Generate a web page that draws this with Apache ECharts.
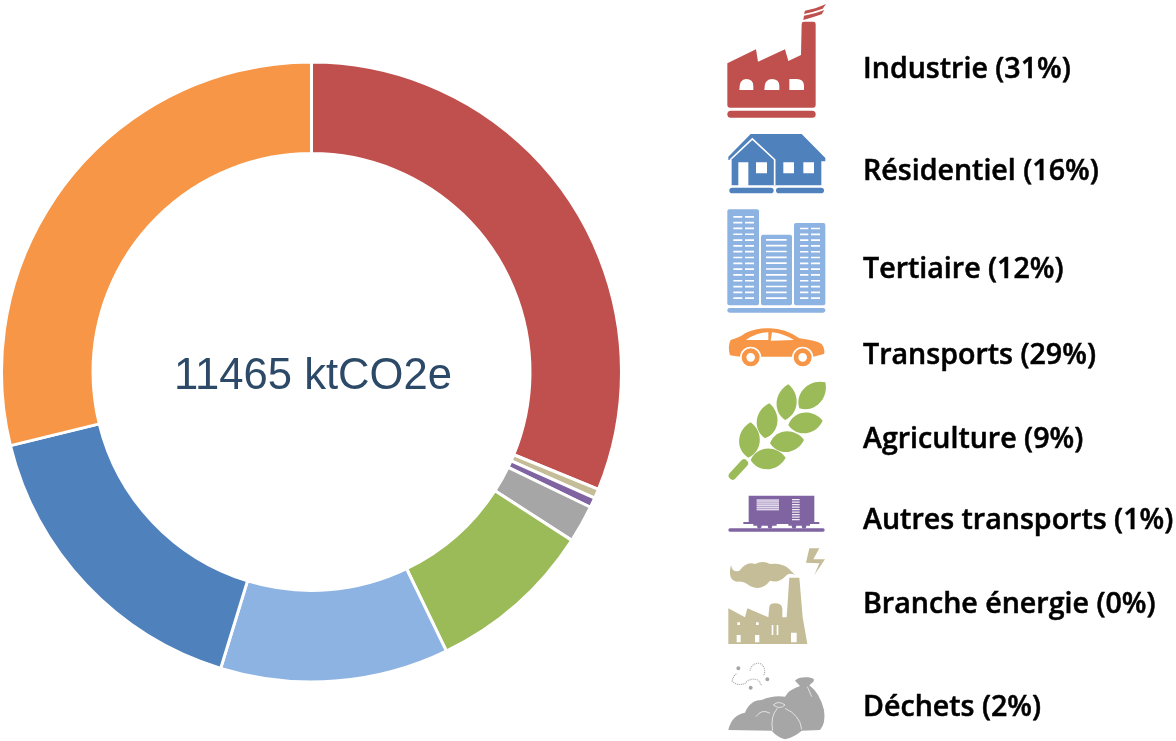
<!DOCTYPE html>
<html><head><meta charset="utf-8">
<style>html,body{margin:0;padding:0;background:#fff}#c{width:1176px;height:741px}</style>
<script src="https://cdn.jsdelivr.net/npm/echarts@6/dist/echarts.min.js"></script>
</head><body><div id="c"></div>
<script>
// Data
const legendNames = ['Industrie','Résidentiel','Tertiaire','Transports','Agriculture','Autres transports','Branche énergie','Déchets'];
const legendValues = [3575,1886,1364,3304,997,59,56,224];
const legendColors = ['#c0504d','#4f81bd','#8db3e2','#f79646','#9bbb59','#8064a2','#c4bd97','#a6a6a6'];
const ringOrder = ['Industrie','Branche énergie','Autres transports','Déchets','Agriculture','Tertiaire','Résidentiel','Transports'];
const centerUnit = 'ktCO2e';

// Layout of the pictogram legend
const labelY = [70,172,270,356,440,521,605,708];
const iconY = [0,0,200,200,375,375,540,540];

const box = (x1,y1,x2,y2)=>`M${x1} ${y1}L${x2} ${y1}L${x2} ${y2}L${x1} ${y2}Z`;
const circ = (cx,cy,r)=>`M${cx-r} ${cy}a${r} ${r} 0 1 0 ${2*r} 0a${r} ${r} 0 1 0 ${-2*r} 0Z`;
const pill = (x1,y1,x2,y2)=>{const r=(y2-y1)/2;return `M${x1+r} ${y1}L${x2-r} ${y1}A${r} ${r} 0 0 1 ${x2-r} ${y2}L${x1+r} ${y2}A${r} ${r} 0 0 1 ${x1+r} ${y1}Z`;};
const stripes = (x1,x2,y1,y2,n,h)=>{let s='';for(let i=0;i<n;i++){const y=y1+(y2-y1)*i/(n-1);s+=box(x1,y,x2,y+h);}return s;};
const leaf = (bx,by,tx,ty,w)=>{
  const dx=tx-bx,dy=ty-by,l=Math.hypot(dx,dy),nx=-dy/l*w*4/3,ny=dx/l*w*4/3;
  const p=(a,s)=>`${bx+dx*a+nx*s} ${by+dy*a+ny*s}`;
  return `M${bx} ${by}C${p(.2,1)} ${p(.75,1)} ${tx} ${ty}C${p(.75,-1)} ${p(.2,-1)} ${bx} ${by}Z`;
};
const W='#ffffff';
const iconPaths = [
 // factory
 [{d:'M22 190L108 148L114 185L195 148L205 183L243 165L245 72Q245 65 252 65L280 65Q287 65 287 72L287 316Q287 323 280 323L29 323Q22 323 22 316Z'},
  {d:pill(22,332,287,353)},
  {d:'M255 32Q285 27 318 12L308 26Q280 36 252 42Z'},
  {d:'M252 47Q285 42 313 30L305 43Q280 52 250 60Z'},
  {d:'M58 270Q58 237 78 237Q100 237 100 258L100 270Z M133 270Q133 237 155 237Q178 237 178 258L178 270Z M208 270L208 237L230 237Q252 237 252 258L252 270Z',c:W}],
 // house
 [{d:'M25 470L92 402L245 402L316 474L316 484L304 484L304 556L35 556L35 480L25 480Z'},
  {d:pill(28,563,161,580)},{d:pill(168,563,312,580)},
  {s:'M30 480L97 417L165 480M164 478L164 556',c:W,w:5},
  {d:box(55,487,85,560)+box(108,487,141,520)+box(190,487,222,520)+box(250,487,282,520),c:W}],
 // offices
 [{d:'M28 28L111 28Q117 28 117 34L117 310Q117 316 111 316L28 316Q22 316 22 310L22 34Q22 28 28 28Z'},
  {d:'M129 104L210 104Q216 104 216 110L216 310Q216 316 210 316L129 316Q123 316 123 310L123 110Q123 104 129 104Z'},
  {d:'M228 69L310 69Q316 69 316 75L316 310Q316 316 310 316L228 316Q222 316 222 310L222 75Q222 69 228 69Z'},
  {d:pill(22,324,316,338)},
  {d:stripes(40,67,48,292,15,5)+stripes(75,102,48,292,15,5)+stripes(138,200,117,292,11,5)+stripes(240,265,83,292,13,5)+stripes(273,300,83,292,13,5),c:W}],
 // car
 [{d:'M32 420Q60 412 75 400Q110 383 150 385Q195 385 238 415Q290 422 305 432Q316 448 312 462L280 470L60 470L30 466Q22 440 32 420Z'},
  {d:'M78 420Q110 397 145 397L145 420Z M156 397Q190 400 222 420L152 422Z',c:W},
  {d:circ(92,472,32)+circ(248,472,32),c:W},
  {d:circ(92,472,27)+circ(248,472,27)},
  {d:circ(92,472,13)+circ(248,472,13),c:W}],
 // wheat
 [{s:'M38 302L72 265',w:24,cap:'round'},
  {d:leaf(85,248,92,142,31)},
  {d:leaf(135,190,148,85,31)},
  {d:leaf(195,135,205,28,30)},
  {d:leaf(238,100,316,22,32)},
  {d:leaf(92,255,197,248,31)},
  {d:leaf(150,205,252,195,31)},
  {d:leaf(205,150,308,137,31)}],
 // wagon
 [{d:box(86,362,283,442)},
  {d:box(110,372,177,407),c:'#b6a4ca'},
  {d:stripes(110,177,374,402,6,2.5)+stripes(216,239,372,432,9,3.5),c:'#f0ebf5'},
  {d:box(70,441,298,447)+box(100,445,170,452)+box(205,445,270,452)},
  {d:circ(118,454,7)+circ(150,454,7)+circ(222,454,7)+circ(252,454,7)},
  {d:pill(25,460,314,470)}],
 // power plant
 [{d:'M33 75Q38 100 58 92Q80 62 105 72Q130 60 150 72Q185 68 205 85Q215 95 225 105Q205 95 195 110Q175 130 150 122Q125 155 90 138Q70 122 50 125Q22 120 33 75Z'},
  {d:'M268 25L298 25L280 58L315 58L283 105L298 70L258 68Z'},
  {d:'M25 205L75 232L82 205L145 232L148 200Q150 190 165 190Q185 190 187 205L187 232L200 232L208 113L238 113L248 232L262 312L25 312Z'},
  {d:box(50,285,62,307)+box(105,285,118,307)+box(213,278,230,307)+box(155,255,160,285)+box(170,255,175,285)+box(52,247,60,255)+box(108,247,116,255),c:W}],
 // waste bags
 [{d:'M25 570Q35 525 75 518Q90 480 125 480Q160 465 195 470Q205 450 240 438L225 422Q235 410 265 412Q288 415 280 425L268 436Q300 460 312 510Q318 550 300 570L245 572Q225 590 195 598Q170 590 155 572Z'},
  {s:'M108 530Q125 505 150 520M160 495Q175 480 195 495Q180 510 160 495M172 505Q150 530 158 572M195 505Q240 525 245 568M262 440L275 470',c:W,w:2},
  {s:'M36 425Q40 405 52 400M36 422Q50 440 75 430Q90 412 115 420L125 437M90 392Q95 368 120 370Q142 385 130 408',w:3.5,dash:[3,3]},
  {d:circ(55,385,6)+circ(142,418,6)+circ(92,443,6)}]
];

const pieData = ringOrder.map(n=>{const i=legendNames.indexOf(n);return {name:n,value:legendValues[i],itemStyle:{color:legendColors[i]}};});
const total = legendValues.reduce((a,b)=>a+b,0);

function renderLegend(params){
  const i=params.dataIndex, col=legendColors[i];
  const kids=iconPaths[i].map(p=>p.d
    ?{type:'path',shape:{pathData:p.d},style:{fill:p.c||col}}
    :{type:'path',shape:{pathData:p.s},style:{fill:'none',stroke:p.c||col,lineWidth:p.w,lineCap:p.cap||'butt',lineDash:p.dash||null}});
  return {type:'group',children:[
    {type:'group',x:720,y:iconY[i],scaleX:1/3,scaleY:1/3,children:kids},
    {type:'text',x:863,y:labelY[i],style:{
      text:`${legendNames[i]} (${Math.round(legendValues[i]/total*100)}%)`,
      font:'600 28.6px "Open Sans"',fill:'#000000',stroke:'#000000',lineWidth:0.5,textAlign:'left',textVerticalAlign:'middle'}}
  ]};
}

const chart=echarts.init(document.getElementById('c'),null,{renderer:'canvas'});
chart.setOption({
  animation:false,
  backgroundColor:'#ffffff',
  title:{text:`${total} ${centerUnit}`,left:308,top:372,textAlign:'center',textVerticalAlign:'middle',
    textStyle:{fontFamily:'"Liberation Sans"',fontSize:43.6,fontWeight:'normal',color:'#2c4a68'}},
  series:[
   {type:'pie',center:[311.5,372],radius:[218.5,310],startAngle:90,clockwise:true,silent:true,
    label:{show:false},labelLine:{show:false},
    itemStyle:{borderColor:'#ffffff',borderWidth:3},data:pieData},
   {type:'custom',coordinateSystem:'none',silent:true,renderItem:renderLegend,
    data:legendNames.map((n,i)=>[i])}
  ]
});
</script></body></html>
